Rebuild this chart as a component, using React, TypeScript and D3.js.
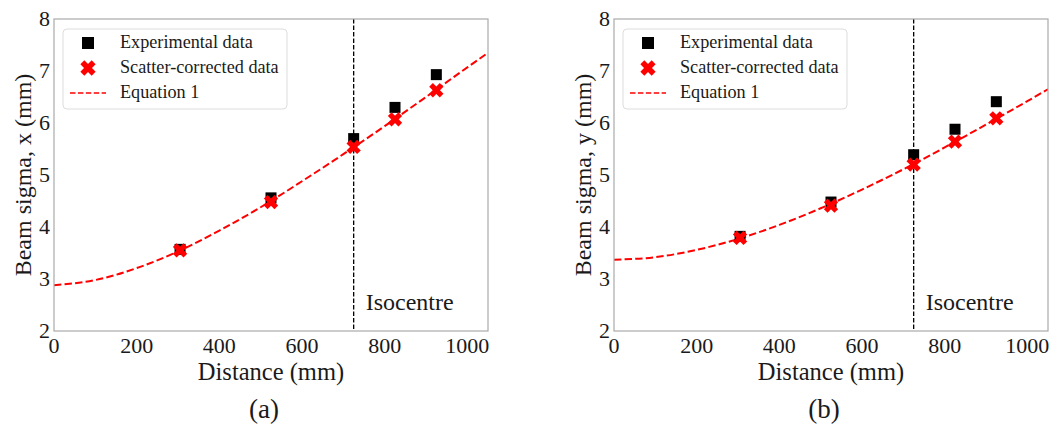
import React from "react";
import * as d3 from "d3";

// distances of the measurement planes (mm)
const distances = [305, 525, 725, 825, 925];

// panel (a): sigma x
const expX = [3.57, 4.56, 5.7, 6.3, 6.93];
const corrX = [3.55, 4.48, 5.54, 6.07, 6.63];
// panel (b): sigma y
const expY = [3.82, 4.48, 5.39, 5.88, 6.41];
const corrY = [3.79, 4.41, 5.2, 5.64, 6.09];

// Equation 1 curve
const curveZ = [0, 100, 200, 300, 400, 500, 600, 700, 800, 900, 1000, 1050];
const curveX = [2.88, 2.98, 3.21, 3.53, 3.93, 4.38, 4.88, 5.4, 5.94, 6.5, 7.07, 7.35];
const curveY = [3.37, 3.42, 3.56, 3.77, 4.04, 4.36, 4.72, 5.11, 5.53, 5.97, 6.42, 6.65];

const xTicks = [0, 200, 400, 600, 800, 1000];
const yTicks = [2, 3, 4, 5, 6, 7, 8];
const isocentre = 725;

const FONT = '"Liberation Serif", "DejaVu Serif", serif';

const Cross = ({ x, y, r, t }: { x: number; y: number; r: number; t: number }) => (
  <g transform={`translate(${x},${y})`} fill="#ff0000">
    <rect x={-r} y={-t} width={2 * r} height={2 * t} transform="rotate(45)" />
    <rect x={-r} y={-t} width={2 * r} height={2 * t} transform="rotate(-45)" />
  </g>
);

const Panel = ({ left, exp, corr, curve, axisName, tag }: any) => {
  const width = 434;
  const top = 19;
  const height = 312;
  const x = d3.scaleLinear().domain([0, 1050]).range([0, width]);
  const y = d3.scaleLinear().domain([2, 8]).range([height, 0]);
  const line = d3
    .line<number>()
    .x((_, i) => x(curveZ[i]))
    .y((d) => y(d))
    .curve(d3.curveMonotoneX);

  return (
    <g transform={`translate(${left},${top})`} fill="#1a1a1a">
      <defs>
        <clipPath id={`clip-${tag}`}>
          <rect x={0} y={0} width={width} height={height} />
        </clipPath>
      </defs>
      <g clipPath={`url(#clip-${tag})`}>
        <line
          x1={x(isocentre)}
          x2={x(isocentre)}
          y1={0}
          y2={height}
          stroke="#000"
          strokeWidth={1.3}
          strokeDasharray="4.5,2"
        />
        <path d={line(curve) || ""} fill="none" stroke="#ff0000" strokeWidth={2} strokeDasharray="7.4,3.2" />
        {exp.map((v: number, i: number) => (
          <rect key={"e" + i} x={x(distances[i]) - 5.5} y={y(v) - 5.5} width={11} height={11} fill="#000" />
        ))}
        {corr.map((v: number, i: number) => (
          <Cross key={"c" + i} x={x(distances[i])} y={y(v)} r={7.5} t={2.6} />
        ))}
      </g>
      <rect x={0} y={0} width={width} height={height} fill="none" stroke="#aaa" strokeWidth={1.2} />
      {xTicks.map((t) => (
        <text key={"x" + t} x={x(t)} y={height + 22} textAnchor="middle" fontSize={22}>
          {t}
        </text>
      ))}
      {yTicks.map((t) => (
        <text key={"y" + t} x={-4} y={y(t) + 7} textAnchor="end" fontSize={22}>
          {t}
        </text>
      ))}
      <text x={x(isocentre) + 12} y={291} fontSize={24}>
        Isocentre
      </text>
      <text x={width / 2} y={height + 49} textAnchor="middle" fontSize={24.5}>
        Distance (mm)
      </text>
      <text transform={`translate(-23,${height / 2}) rotate(-90)`} textAnchor="middle" fontSize={24}>
        {`Beam sigma, ${axisName} (mm)`}
      </text>
      <text x={width / 2 - 7} y={height + 87} textAnchor="middle" fontSize={27}>
        {`(${tag})`}
      </text>

      {/* legend */}
      <g transform="translate(9,10)">
        <rect x={0} y={0} width={224} height={80} rx={4} fill="#fff" stroke="#ddd" strokeWidth={1} />
        <rect x={19} y={8} width={12} height={12} fill="#000" />
        <Cross x={25} y={39} r={8} t={2.8} />
        <line x1={7} x2={43} y1={64} y2={64} stroke="#ff0000" strokeWidth={1.5} strokeDasharray="5.5,2.4" />
        <text x={57} y={19} fontSize={18.2}>Experimental data</text>
        <text x={57} y={44} fontSize={18.2}>Scatter-corrected data</text>
        <text x={57} y={69} fontSize={18.2}>Equation 1</text>
      </g>
    </g>
  );
};

export default function App() {
  return (
    <svg
      width={1050}
      height={428}
      style={{ position: "absolute", left: 0, top: 0, background: "#fff", fontFamily: FONT }}
    >
      <Panel left={54} exp={expX} corr={corrX} curve={curveX} axisName="x" tag="a" />
      <Panel left={614} exp={expY} corr={corrY} curve={curveY} axisName="y" tag="b" />
    </svg>
  );
}
